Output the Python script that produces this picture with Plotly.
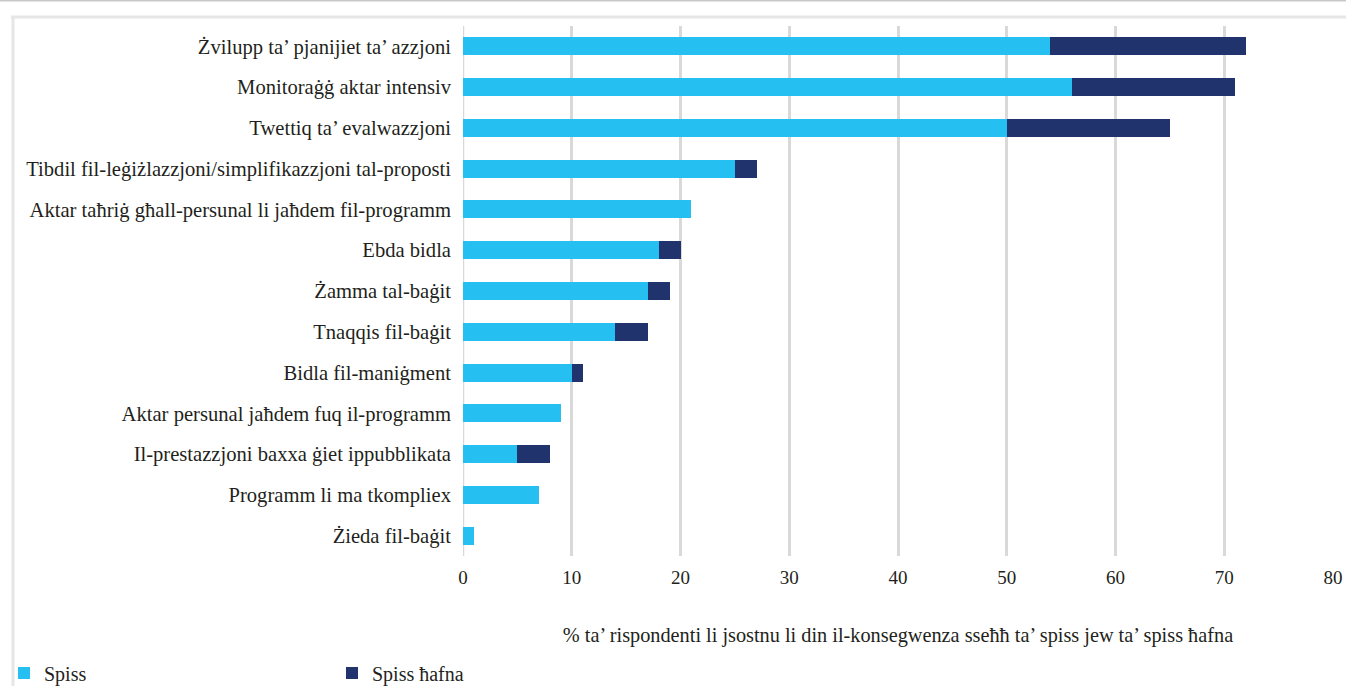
import plotly.graph_objects as go

categories = [
    "Żvilupp ta’ pjanijiet ta’ azzjoni",
    "Monitoraġġ aktar intensiv",
    "Twettiq ta’ evalwazzjoni",
    "Tibdil fil-leġiżlazzjoni/simplifikazzjoni tal-proposti",
    "Aktar taħriġ għall-persunal li jaħdem fil-programm",
    "Ebda bidla",
    "Żamma tal-baġit",
    "Tnaqqis fil-baġit",
    "Bidla fil-maniġment",
    "Aktar persunal jaħdem fuq il-programm",
    "Il-prestazzjoni baxxa ġiet ippubblikata",
    "Programm li ma tkompliex",
    "Żieda fil-baġit",
]
spiss = [54, 56, 50, 25, 21, 18, 17, 14, 10, 9, 5, 7, 1]
spiss_hafna = [18, 15, 15, 2, 0, 2, 2, 3, 1, 0, 3, 0, 0]
series_names = ["Spiss", "Spiss ħafna"]
x_ticks = [0, 10, 20, 30, 40, 50, 60, 70, 80]
x_title = "% ta’ rispondenti li jsostnu li din il-konsegwenza sseħħ ta’ spiss jew ta’ spiss ħafna"

FONT = "Liberation Serif"
W, H = 1346, 686
L, T = 463, 26
pw, ph = 870, 530
R, B = W - L - pw, H - T - ph

def px(x):  # page x -> paper
    return (x - L) / pw

def py(y):  # page y -> paper
    return (T + ph - y) / ph

fig = go.Figure()
fig.add_trace(go.Bar(y=categories, x=spiss, name=series_names[0], orientation="h",
                     marker=dict(color="#25C0F1", line=dict(width=0))))
fig.add_trace(go.Bar(y=categories, x=spiss_hafna, name=series_names[1], orientation="h",
                     marker=dict(color="#21336D", line=dict(width=0))))

shapes = [
    dict(type="line", xref="paper", yref="paper", x0=px(0), x1=px(W), y0=py(0.5), y1=py(0.5),
         line=dict(color="#c8c8c8", width=2)),
    dict(type="line", xref="paper", yref="paper", x0=px(11), x1=px(W), y0=py(17), y1=py(17),
         line=dict(color="#e6e6e6", width=3)),
    dict(type="line", xref="paper", yref="paper", x0=px(13), x1=px(13), y0=py(H), y1=py(17),
         line=dict(color="#e6e6e6", width=3)),
]

fig.update_layout(
    width=W, height=H,
    margin=dict(l=L, r=R, t=T, b=B, autoexpand=False),
    barmode="stack",
    bargap=0.56,
    plot_bgcolor="white", paper_bgcolor="white",
    font=dict(family=FONT, size=20, color="#231f20"),
    shapes=shapes,
    legend=dict(orientation="h", xref="container", yref="container",
                x=4 / W, xanchor="left",
                y=1 - 673 / H, yanchor="middle",
                entrywidth=283, entrywidthmode="pixels", font=dict(size=20),
                traceorder="normal", itemclick=False, bgcolor="rgba(0,0,0,0)"),
    xaxis=dict(range=[0, 80], tickvals=x_ticks, showgrid=True, gridcolor="#d9d9d9", gridwidth=2.5,
               zeroline=False, showline=False, ticks="", tickfont=dict(size=19),
               ticklabelstandoff=8, automargin=False,
               title=dict(text=x_title, font=dict(size=20.3), standoff=40)),
    yaxis=dict(autorange="reversed", showgrid=False, zeroline=False, showline=False,
               ticks="", tickfont=dict(size=20.6), ticklabelstandoff=11, automargin=False),
)
fig.add_vline(x=0, line=dict(color="#d9d9d9", width=2.5), layer="below")

fig.write_html(
    "out.html",
    config={"displayModeBar": False},
    post_script="document.body.style.margin='0';document.body.style.overflow='hidden';",
)
